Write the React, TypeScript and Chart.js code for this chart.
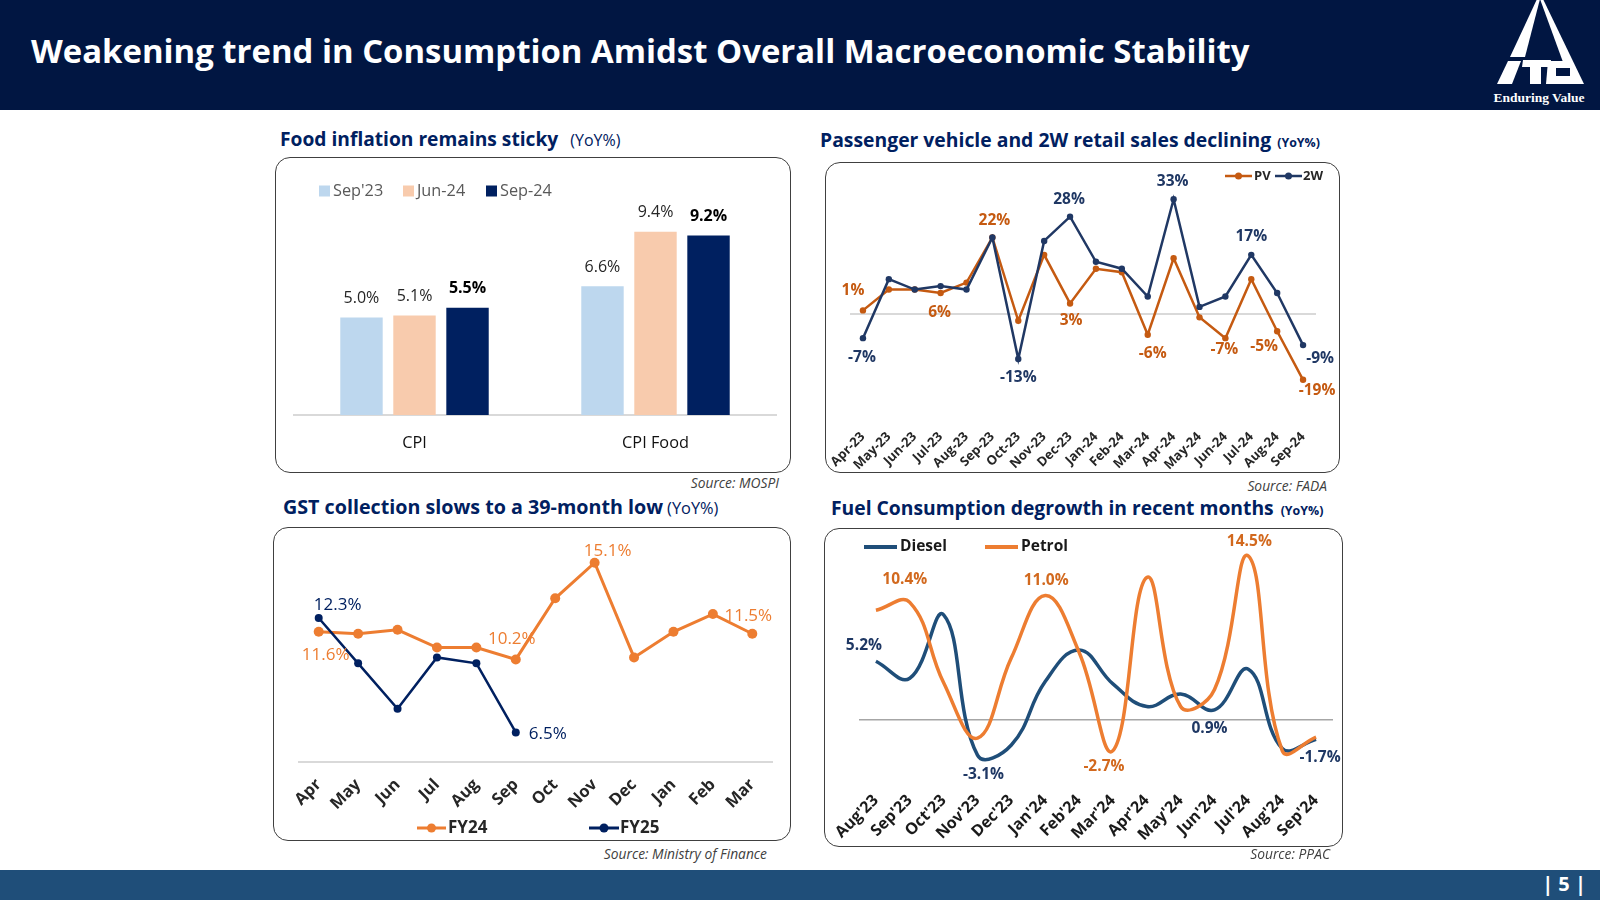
import React, { useEffect, useRef } from 'react';
import { Chart, registerables } from 'chart.js';

Chart.register(...registerables);

const FONT = "'Open Sans', sans-serif";
Chart.defaults.font.family = FONT;

// ---------- Food inflation ----------
const cpiCategories = ['CPI', 'CPI Food'];
const cpiSeriesNames = ["Sep'23", 'Jun-24', 'Sep-24'];
const cpiSep23 = [5.0, 6.6];
const cpiJun24 = [5.1, 9.4];
const cpiSep24 = [5.5, 9.2];

// ---------- PV / 2W retail ----------
const vehicleMonths = ['Apr-23', 'May-23', 'Jun-23', 'Jul-23', 'Aug-23', 'Sep-23', 'Oct-23', 'Nov-23', 'Dec-23', 'Jan-24', 'Feb-24', 'Mar-24', 'Apr-24', 'May-24', 'Jun-24', 'Jul-24', 'Aug-24', 'Sep-24'];
const pvGrowth = [1, 7, 7, 6, 9, 22, -2, 17, 3, 13, 12, -6, 16, -1, -7, 10, -5, -19];
const twGrowth = [-7, 10, 7, 8, 7, 22, -13, 21, 28, 15, 13, 5, 33, 2, 5, 17, 6, -9];

// ---------- GST ----------
const gstMonths = ['Apr', 'May', 'Jun', 'Jul', 'Aug', 'Sep', 'Oct', 'Nov', 'Dec', 'Jan', 'Feb', 'Mar'];
const gstFY24 = [11.6, 11.5, 11.7, 10.8, 10.8, 10.2, 13.3, 15.1, 10.3, 11.6, 12.5, 11.5];
const gstFY25 = [12.3, 10.0, 7.7, 10.3, 10.0, 6.5];

// ---------- Fuel ----------
const fuelMonths = ["Aug'23", "Sep'23", "Oct'23", "Nov'23", "Dec'23", "Jan'24", "Feb'24", "Mar'24", "Apr'24", "May'24", "Jun'24", "Jul'24", "Aug'24", "Sep'24"];
const dieselGrowth = [5.2, 3.7, 9.3, -3.1, -2.2, 3.4, 6.2, 3.2, 1.2, 2.3, 0.9, 4.5, -2.5, -1.7];
const petrolGrowth = [9.7, 10.4, 3.3, -1.6, 5.5, 11.0, 6.0, -2.7, 12.6, 1.2, 2.7, 14.5, -2.7, -1.5];

type LabelItem = { ds: number; i: number; dx: number; dy: number };

function makeValueLabels(items: LabelItem[], fontFor: (it: LabelItem) => string, colors: string[], format: (v: number) => string) {
  return {
    id: 'valueLabels',
    afterDatasetsDraw(chart: any) {
      const ctx = chart.ctx as CanvasRenderingContext2D;
      items.forEach((it) => {
        const el = chart.getDatasetMeta(it.ds).data[it.i];
        if (!el) return;
        const v = chart.data.datasets[it.ds].data[it.i] as number;
        ctx.save();
        ctx.font = fontFor(it);
        ctx.fillStyle = colors[it.ds];
        ctx.textAlign = 'center';
        ctx.textBaseline = 'middle';
        ctx.fillText(format(v), el.x + it.dx, el.y + it.dy);
        ctx.restore();
      });
    },
  };
}

type LegendItem = { ds: number; x: number; len: number; textX: number };
function makeLegend(cfg: { items: LegendItem[]; cy: number; kind: 'box' | 'line' | 'linePoint'; font: string; textColor: string; lineWidth?: number; dotR?: number; box?: number }) {
  return {
    id: 'customLegend',
    afterDraw(chart: any) {
      const ctx = chart.ctx as CanvasRenderingContext2D;
      cfg.items.forEach((it) => {
        const ds = chart.data.datasets[it.ds];
        const color = (ds.borderColor || ds.backgroundColor) as string;
        ctx.save();
        if (cfg.kind === 'box') {
          const b = cfg.box ?? 11;
          ctx.fillStyle = ds.backgroundColor as string;
          ctx.fillRect(it.x, cfg.cy - b / 2, b, b);
        } else {
          ctx.strokeStyle = color;
          ctx.lineWidth = cfg.lineWidth ?? 3;
          ctx.beginPath();
          ctx.moveTo(it.x, cfg.cy);
          ctx.lineTo(it.x + it.len, cfg.cy);
          ctx.stroke();
          if (cfg.kind === 'linePoint') {
            ctx.fillStyle = color;
            ctx.beginPath();
            ctx.arc(it.x + it.len / 2, cfg.cy, cfg.dotR ?? 4, 0, Math.PI * 2);
            ctx.fill();
          }
        }
        ctx.fillStyle = cfg.textColor;
        ctx.font = cfg.font;
        ctx.textAlign = 'left';
        ctx.textBaseline = 'middle';
        ctx.fillText(ds.label, it.textX, cfg.cy);
        ctx.restore();
      });
    },
  };
}

function fixX(height: number) {
  return (s: any) => {
    s.height = height;
    s.paddingLeft = 0;
    s.paddingRight = 0;
  };
}

const zeroOnly = (color: string) => (c: any) => (c.tick && c.tick.value === 0 ? color : 'rgba(0,0,0,0)');

function ChartBox(props: { left: number; top: number; width: number; height: number; make: () => any }) {
  const ref = useRef<HTMLCanvasElement>(null);
  useEffect(() => {
    const chart = new Chart(ref.current as HTMLCanvasElement, props.make());
    return () => chart.destroy();
  }, []);
  return (
    <canvas
      ref={ref}
      width={props.width}
      height={props.height}
      style={{ position: 'absolute', left: props.left, top: props.top, width: props.width, height: props.height }}
    />
  );
}

// ---------- chart configs ----------
function cpiConfig() {
  const colors = ['#BDD7EE', '#F8CBAD', '#002060'];
  const items: LabelItem[] = [];
  [0, 1, 2].forEach((ds) => [0, 1].forEach((i) => items.push({ ds, i, dx: 0, dy: -19 })));
  return {
    type: 'bar',
    data: {
      labels: cpiCategories,
      datasets: [
        { label: cpiSeriesNames[0], data: cpiSep23, backgroundColor: colors[0], borderWidth: 0 },
        { label: cpiSeriesNames[1], data: cpiJun24, backgroundColor: colors[1], borderWidth: 0 },
        { label: cpiSeriesNames[2], data: cpiSep24, backgroundColor: colors[2], borderWidth: 0 },
      ],
    },
    options: {
      responsive: false,
      animation: false,
      devicePixelRatio: 1,
      layout: { padding: { left: 19, right: 15, top: 24, bottom: 0 } },
      plugins: { legend: { display: false }, tooltip: { enabled: false } },
      datasets: { bar: { barPercentage: 0.8, categoryPercentage: 0.66 } },
      scales: {
        x: {
          grid: { display: false, drawTicks: false },
          border: { display: true, color: '#D9D9D9', width: 2 },
          ticks: { color: '#111', font: { size: 16.3 }, padding: 19, maxRotation: 0 },
          afterFit: fixX(58),
        },
        y: { display: false, min: 0, max: 12 },
      },
    },
    plugins: [
      makeValueLabels(items, (it) => (it.ds === 2 ? `bold 16px ${FONT}` : `16px ${FONT}`), ['#262626', '#262626', '#000000'], (v) => v.toFixed(1) + '%'),
      makeLegend({
        items: [
          { ds: 0, x: 44, len: 0, textX: 58 },
          { ds: 1, x: 128, len: 0, textX: 142 },
          { ds: 2, x: 211, len: 0, textX: 225 },
        ],
        cy: 34,
        kind: 'box',
        box: 11,
        font: `16.3px ${FONT}`,
        textColor: '#595959',
      }),
    ],
  };
}

function vehicleConfig() {
  const colors = ['#C55A11', '#203864'];
  const items: LabelItem[] = [
    { ds: 0, i: 0, dx: -10, dy: -20 },
    { ds: 0, i: 3, dx: -1, dy: 20 },
    { ds: 0, i: 5, dx: 2, dy: -17 },
    { ds: 0, i: 8, dx: 1, dy: 17 },
    { ds: 0, i: 11, dx: 5, dy: 19 },
    { ds: 0, i: 14, dx: -1, dy: 11 },
    { ds: 0, i: 16, dx: -13, dy: 15 },
    { ds: 0, i: 17, dx: 14, dy: 11 },
    { ds: 1, i: 0, dx: -1, dy: 19 },
    { ds: 1, i: 6, dx: 0, dy: 19 },
    { ds: 1, i: 8, dx: -1, dy: -17 },
    { ds: 1, i: 12, dx: -1, dy: -18 },
    { ds: 1, i: 15, dx: 0, dy: -18 },
    { ds: 1, i: 17, dx: 17, dy: 13 },
  ];
  return {
    type: 'line',
    data: {
      labels: vehicleMonths,
      datasets: [
        { label: 'PV', data: pvGrowth, borderColor: colors[0], backgroundColor: colors[0], borderWidth: 2.5, pointRadius: 3.2, pointBorderWidth: 0, tension: 0, order: 1, clip: false },
        { label: '2W', data: twGrowth, borderColor: colors[1], backgroundColor: colors[1], borderWidth: 2.5, pointRadius: 3.2, pointBorderWidth: 0, tension: 0, order: 0, clip: false },
      ],
    },
    options: {
      responsive: false,
      animation: false,
      devicePixelRatio: 1,
      layout: { padding: { left: 25, right: 24, top: 13, bottom: 0 } },
      plugins: { legend: { display: false }, tooltip: { enabled: false } },
      scales: {
        x: {
          offset: true,
          grid: { display: false, drawTicks: false },
          border: { display: false },
          ticks: { autoSkip: false, minRotation: 45, maxRotation: 45, color: '#262626', font: { size: 13, weight: 'bold' }, padding: 11 },
          afterFit: fixX(55),
        },
        y: {
          min: -30,
          max: 40,
          ticks: { display: false, stepSize: 10 },
          border: { display: false },
          grid: { drawTicks: false, color: zeroOnly('#D9D9D9'), lineWidth: 2 },
          afterFit: (s: any) => { s.width = 0; },
        },
      },
    },
    plugins: [
      makeValueLabels(items, () => `bold 15.5px ${FONT}`, colors, (v) => `${v}%`),
      makeLegend({
        items: [
          { ds: 0, x: 400, len: 27, textX: 429 },
          { ds: 1, x: 450, len: 27, textX: 478 },
        ],
        cy: 14,
        kind: 'linePoint',
        lineWidth: 2.5,
        dotR: 3.5,
        font: `bold 13px ${FONT}`,
        textColor: '#262626',
      }),
    ],
  };
}

function gstConfig() {
  const colors = ['#ED7D31', '#002060'];
  const items: LabelItem[] = [
    { ds: 1, i: 0, dx: 19, dy: -13 },
    { ds: 0, i: 0, dx: 7, dy: 23 },
    { ds: 0, i: 5, dx: -4, dy: -20 },
    { ds: 0, i: 7, dx: 13, dy: -12 },
    { ds: 0, i: 11, dx: -4, dy: -18 },
    { ds: 1, i: 5, dx: 32, dy: 2 },
  ];
  return {
    type: 'line',
    data: {
      labels: gstMonths,
      datasets: [
        { label: 'FY24', data: gstFY24, borderColor: colors[0], backgroundColor: colors[0], borderWidth: 3, pointRadius: 5, pointBorderWidth: 0, tension: 0, order: 1, clip: false },
        { label: 'FY25', data: gstFY25, borderColor: colors[1], backgroundColor: colors[1], borderWidth: 2.5, pointRadius: 4, pointBorderWidth: 0, tension: 0, order: 0, clip: false },
      ],
    },
    options: {
      responsive: false,
      animation: false,
      devicePixelRatio: 1,
      layout: { padding: { left: 26, right: 19, top: 18, bottom: 0 } },
      plugins: { legend: { display: false }, tooltip: { enabled: false } },
      scales: {
        x: {
          offset: true,
          grid: { display: false, drawTicks: false },
          border: { display: true, color: '#D9D9D9', width: 2 },
          ticks: { autoSkip: false, minRotation: 45, maxRotation: 45, color: '#262626', font: { size: 16.5, weight: 'bold' }, padding: 13 },
          afterFit: fixX(79),
        },
        y: { display: false, min: 5, max: 16 },
      },
    },
    plugins: [
      makeValueLabels(items, () => `17px ${FONT}`, colors, (v) => v.toFixed(1) + '%'),
      makeLegend({
        items: [
          { ds: 0, x: 144, len: 29, textX: 175 },
          { ds: 1, x: 316, len: 30, textX: 347 },
        ],
        cy: 301,
        kind: 'linePoint',
        lineWidth: 3,
        dotR: 4.5,
        font: `bold 17px ${FONT}`,
        textColor: '#262626',
      }),
    ],
  };
}

function fuelConfig() {
  const colors = ['#1F4E79', '#ED7D31'];
  const labelColors = ['#1F3864', '#D2691E'];
  const items: LabelItem[] = [
    { ds: 0, i: 0, dx: -12, dy: -16 },
    { ds: 1, i: 1, dx: -5, dy: -23 },
    { ds: 0, i: 3, dx: 6, dy: 19 },
    { ds: 1, i: 5, dx: 1, dy: -15 },
    { ds: 1, i: 7, dx: -9, dy: 16 },
    { ds: 1, i: 11, dx: 1, dy: -14 },
    { ds: 0, i: 10, dx: -5, dy: 19 },
    { ds: 0, i: 13, dx: 4, dy: 18 },
  ];
  return {
    type: 'line',
    data: {
      labels: fuelMonths,
      datasets: [
        { label: 'Diesel', data: dieselGrowth, borderColor: colors[0], backgroundColor: colors[0], borderWidth: 3.5, pointRadius: 0, tension: 0.42, order: 1, clip: false },
        { label: 'Petrol', data: petrolGrowth, borderColor: colors[1], backgroundColor: colors[1], borderWidth: 3.5, pointRadius: 0, tension: 0.42, order: 0, clip: false },
      ],
    },
    options: {
      responsive: false,
      animation: false,
      devicePixelRatio: 1,
      layout: { padding: { left: 35, right: 10, top: 11, bottom: 0 } },
      plugins: { legend: { display: false }, tooltip: { enabled: false } },
      scales: {
        x: {
          offset: true,
          grid: { display: false, drawTicks: false },
          border: { display: false },
          ticks: { autoSkip: false, minRotation: 45, maxRotation: 45, color: '#1a1a1a', font: { size: 16, weight: 'bold' }, padding: 3 },
          afterFit: fixX(59),
        },
        y: {
          min: -6,
          max: 16,
          ticks: { display: false, stepSize: 2 },
          border: { display: false },
          grid: { drawTicks: false, color: zeroOnly('#A6A6A6'), lineWidth: 1.5 },
          afterFit: (s: any) => { s.width = 0; },
        },
      },
    },
    plugins: [
      makeValueLabels(items, () => `bold 15.5px ${FONT}`, labelColors, (v) => v.toFixed(1) + '%'),
      makeLegend({
        items: [
          { ds: 0, x: 40, len: 33, textX: 76 },
          { ds: 1, x: 161, len: 33, textX: 197 },
        ],
        cy: 19,
        kind: 'line',
        lineWidth: 4,
        font: `bold 15.5px ${FONT}`,
        textColor: '#1a1a1a',
      }),
    ],
  };
}

// ---------- text helpers ----------
function Txt(p: { x?: number; right?: number; cy: number; size: number; weight?: number; color: string; italic?: boolean; family?: string; children: React.ReactNode }) {
  const style: React.CSSProperties = {
    position: 'absolute',
    top: p.cy - p.size * 0.531,
    lineHeight: `${p.size}px`,
    fontSize: p.size,
    fontWeight: p.weight ?? 400,
    color: p.color,
    fontStyle: p.italic ? 'italic' : 'normal',
    fontFamily: p.family ?? FONT,
    whiteSpace: 'nowrap',
  };
  if (p.right !== undefined) {
    style.right = 1600 - p.right;
    style.textAlign = 'right';
  } else {
    style.left = p.x;
  }
  return <div style={style}>{p.children}</div>;
}

function Frame(p: { l: number; t: number; r: number; b: number }) {
  return (
    <div
      style={{
        position: 'absolute',
        left: p.l,
        top: p.t,
        width: p.r - p.l,
        height: p.b - p.t,
        border: '1.5px solid #404040',
        borderRadius: 15,
        boxSizing: 'border-box',
      }}
    />
  );
}

const NAVY = '#011642';
const TITLE_BLUE = '#002060';

function Logo() {
  return (
    <svg style={{ position: 'absolute', left: 1480, top: 0 }} width={120} height={110} viewBox="1480 0 120 110">
      {/* left leg */}
      <polygon points="1537,-1 1540,-1 1525,57 1510,57" fill="#ffffff" />
      {/* right leg down to base */}
      <polygon points="1540,-1 1543,-1 1584,84 1571,84" fill="#ffffff" />
      {/* I */}
      <polygon points="1508,61 1521,61 1512,84 1497,84" fill="#ffffff" />
      {/* T */}
      <polygon points="1523,60 1551,60 1550,67 1541,67 1541,84 1530,84 1530,67 1522,67" fill="#ffffff" />
      {/* C */}
      <polygon points="1548,61 1566,61 1576,84 1546,84" fill="#ffffff" />
      <rect x="1556" y="68" width="14" height="8" fill={NAVY} />
      <text x="1539" y="102" textAnchor="middle" fill="#ffffff" fontFamily="'Liberation Serif', serif" fontWeight="bold" fontSize="13.5">
        Enduring Value
      </text>
    </svg>
  );
}

export default function App() {
  return (
    <div style={{ position: 'fixed', left: 0, top: 0, width: 1600, height: 900, background: '#fff', overflow: 'hidden', fontFamily: FONT }}>
      {/* header */}
      <div style={{ position: 'absolute', left: 0, top: 0, width: 1600, height: 110, background: NAVY }} />
      <Txt x={31} cy={52} size={32.9} weight={700} color="#ffffff">
        Weakening trend in Consumption Amidst Overall Macroeconomic Stability
      </Txt>
      <Logo />

      {/* panel titles */}
      <Txt x={280} cy={139} size={19.2} weight={700} color={TITLE_BLUE}>
        Food inflation remains sticky<span style={{ fontSize: 16, fontWeight: 400, marginLeft: 12 }}>(YoY%)</span>
      </Txt>
      <Txt x={820} cy={140} size={19.35} weight={700} color={TITLE_BLUE}>
        Passenger vehicle and 2W retail sales declining<span style={{ fontSize: 12.4, fontWeight: 700, marginLeft: 6 }}>(YoY%)</span>
      </Txt>
      <Txt x={283} cy={507} size={19.7} weight={700} color={TITLE_BLUE}>
        GST collection slows to a 39-month low<span style={{ fontSize: 16.4, fontWeight: 400, marginLeft: 4 }}>(YoY%)</span>
      </Txt>
      <Txt x={831} cy={508} size={19.3} weight={700} color={TITLE_BLUE}>
        Fuel Consumption degrowth in recent months<span style={{ fontSize: 12.4, fontWeight: 700, marginLeft: 7 }}>(YoY%)</span>
      </Txt>

      {/* frames */}
      <Frame l={275} t={157} r={791} b={473} />
      <Frame l={825} t={162} r={1340} b={473} />
      <Frame l={273} t={527} r={791} b={841} />
      <Frame l={824} t={528} r={1343} b={847} />

      {/* charts */}
      <ChartBox left={275} top={157} width={516} height={316} make={cpiConfig} />
      <ChartBox left={825} top={162} width={515} height={311} make={vehicleConfig} />
      <ChartBox left={273} top={527} width={518} height={314} make={gstConfig} />
      <ChartBox left={824} top={528} width={519} height={319} make={fuelConfig} />

      {/* sources */}
      <Txt right={779} cy={483} size={13.8} italic color="#404040">Source: MOSPI</Txt>
      <Txt right={1327} cy={486} size={13.8} italic color="#404040">Source: FADA</Txt>
      <Txt right={767} cy={854} size={13.8} italic color="#404040">Source: Ministry of Finance</Txt>
      <Txt right={1330} cy={854} size={13.8} italic color="#404040">Source: PPAC</Txt>

      {/* footer */}
      <div style={{ position: 'absolute', left: 0, top: 870, width: 1600, height: 30, background: '#1F4E79' }} />
      <Txt right={1586} cy={885} size={20} weight={700} color="#ffffff">| 5 |</Txt>
    </div>
  );
}
